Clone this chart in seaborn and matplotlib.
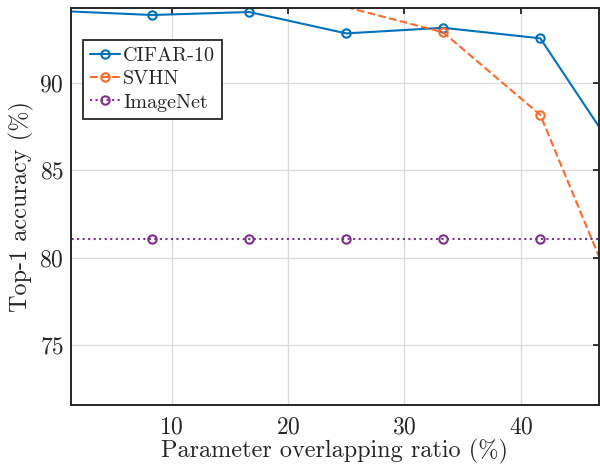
import numpy as np
import pandas as pd
import matplotlib
matplotlib.use("Agg")
import matplotlib.pyplot as plt
import seaborn as sns

# ---- data ----
ratio = [0.0, 8.33, 16.67, 25.0, 33.33, 41.67, 50.0]
cifar10 = [94.10, 93.86, 94.03, 92.81, 93.13, 92.53, 84.20]
svhn_ratio = [25.0, 33.33, 41.67, 50.0]
svhn = [94.31, 92.87, 88.16, 74.80]
imagenet = [81.05, 81.05, 81.05, 81.05, 81.05, 81.05, 81.05]

x_ticks = [10, 20, 30, 40]
y_ticks = [75, 80, 85, 90]
x_label = "Parameter overlapping ratio (%)"
y_label = "Top-1 accuracy (%)"
series_names = ["CIFAR-10", "SVHN", "ImageNet"]

sns.set_style("white")
plt.rcParams["font.family"] = "serif"
plt.rcParams["font.serif"] = ["cmr10", "DejaVu Serif"]
plt.rcParams["mathtext.fontset"] = "cm"
plt.rcParams["axes.formatter.use_mathtext"] = True
plt.rcParams["axes.unicode_minus"] = False

XLIM = (1.34, 46.7)
YLIM = (71.58, 94.24)

fig = plt.figure(figsize=(6.0, 4.66), dpi=100)
ax = fig.add_axes([0.118, 0.1303, 0.880, 0.8518])

colors = ["#0072BD", "#FF6929", "#7E2F8E"]
styles = [dict(linestyle="-"), dict(linestyle="--", dashes=(5, 3.2)), dict(linestyle=":")]
xs = [ratio, svhn_ratio, ratio]
ys = [cifar10, svhn, imagenet]

for name, x, y, c, st in zip(series_names, xs, ys, colors, styles):
    df = pd.DataFrame({"x": x, "y": y})
    vis = [i for i, (a, b) in enumerate(zip(x, y))
           if XLIM[0] <= a <= XLIM[1] and YLIM[0] <= b <= YLIM[1]]
    sns.lineplot(data=df, x="x", y="y", ax=ax, color=c, label=name,
                 linewidth=1.5, marker="o", markersize=6,
                 markerfacecolor="none", markeredgecolor=c,
                 markeredgewidth=1.5, markevery=vis, sort=False, **st)

ax.set_xlim(*XLIM)
ax.set_ylim(*YLIM)
ax.set_xticks(x_ticks)
ax.set_yticks(y_ticks)
ax.grid(True, color="#DCDCDC", linewidth=1.0)
ax.set_axisbelow(True)

for s in ax.spines.values():
    s.set_visible(True)
    s.set_color("#262626")
    s.set_linewidth(1.4)
ax.tick_params(direction="in", top=True, right=True, length=4,
               width=1.3, color="#262626", labelsize=17, labelcolor="#262626")
ax.tick_params(axis="x", pad=8)
ax.tick_params(axis="y", pad=5)

ax.set_xlabel(x_label, fontsize=17.5, color="#262626", labelpad=0)
ax.set_ylabel(y_label, fontsize=17.5, color="#262626", labelpad=4)

leg = ax.legend(loc="upper left", bbox_to_anchor=(0.023, 0.920),
                borderaxespad=0, fontsize=14.5, frameon=True, fancybox=False,
                framealpha=1, edgecolor="#262626", handlelength=1.5,
                handletextpad=0.15, labelspacing=0.25, borderpad=0.35)
leg.get_frame().set_linewidth(1.3)

fig.savefig("out.png", dpi=100)
